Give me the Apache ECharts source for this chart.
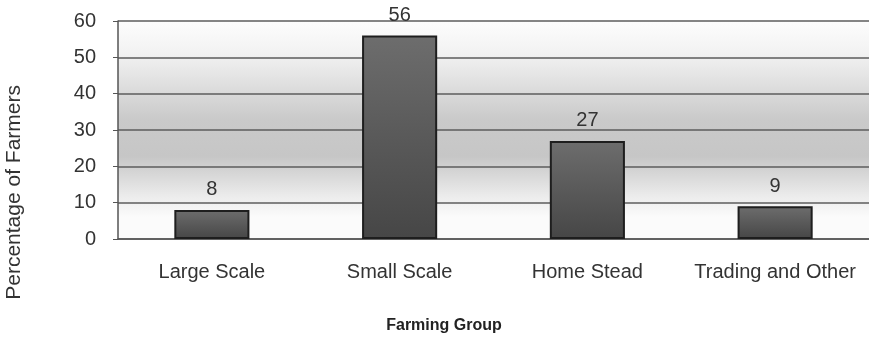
<!DOCTYPE html>
<html>
<head>
<meta charset="utf-8">
<script src="https://cdn.jsdelivr.net/npm/echarts@6/dist/echarts.min.js"></script>
<style>
  html, body { margin: 0; padding: 0; background: #fff; }
  #chart { width: 869px; height: 340px; }
</style>
</head>
<body>
<div id="chart"></div>
<script>
  // farming groups and share of farmers (%)
  var categories = ['Large Scale', 'Small Scale', 'Home Stead', 'Trading and Other'];
  var farmers = [8, 56, 27, 9];
  var yTicks = [0, 10, 20, 30, 40, 50, 60];

  var chart = echarts.init(document.getElementById('chart'));
  var option = {
    animation: false,
    textStyle: { fontFamily: 'Liberation Sans, Arial, sans-serif' },
    grid: {
      left: 118,
      right: 0,
      top: 21,
      bottom: 101,
      outerBoundsMode: 'none',
      show: true,
      borderWidth: 0,
      backgroundColor: {
        type: 'linear', x: 0, y: 0, x2: 0, y2: 1,
        colorStops: [
          { offset: 0, color: '#fdfdfd' },
          { offset: 0.15, color: '#f2f2f2' },
          { offset: 0.45, color: '#cacaca' },
          { offset: 0.62, color: '#c6c6c6' },
          { offset: 0.8, color: '#ebebeb' },
          { offset: 0.9, color: '#fbfbfb' },
          { offset: 1, color: '#fbfbfb' }
        ]
      }
    },
    xAxis: {
      type: 'category',
      data: categories,
      axisLine: { lineStyle: { color: '#555', width: 1.5 } },
      axisTick: { length: 6, lineStyle: { color: '#555' } },
      axisLabel: { fontSize: 20, color: '#333', margin: 23, interval: 0, hideOverlap: false }
    },
    yAxis: {
      type: 'value',
      min: yTicks[0],
      max: yTicks[yTicks.length - 1],
      interval: 10,
      axisLine: { show: true, lineStyle: { color: '#555', width: 1.5 } },
      axisTick: { show: true, length: 5, lineStyle: { color: '#555' } },
      axisLabel: { fontSize: 20, color: '#333', margin: 22 },
      splitLine: { lineStyle: { color: '#5c5c5c', width: 1.5 } }
    },
    graphic: [{
      type: 'text',
      x: 4,
      y: 85,
      rotation: Math.PI / 2,
      style: {
        text: 'Percentage of Farmers',
        fontSize: 21,
        fill: '#333',
        fontFamily: 'Liberation Sans, Arial, sans-serif',
        align: 'right',
        verticalAlign: 'top'
      }
    }, {
      type: 'text',
      x: 444,
      y: 326,
      style: {
        text: 'Farming Group',
        fontSize: 16,
        fontWeight: 'bold',
        fill: '#222',
        fontFamily: 'Liberation Sans Narrow, Arial Narrow, sans-serif',
        align: 'center',
        verticalAlign: 'middle'
      }
    }],
    series: [{
      type: 'bar',
      data: farmers,
      barWidth: '40%',
      itemStyle: {
        color: {
          type: 'linear', x: 0, y: 0, x2: 0, y2: 1,
          colorStops: [
            { offset: 0, color: '#6d6d6d' },
            { offset: 1, color: '#464646' }
          ]
        },
        borderColor: '#1e1e1e',
        borderWidth: 2
      },
      label: {
        show: true,
        position: 'top',
        distance: 10,
        fontSize: 20,
        color: '#333'
      }
    }]
  };
  chart.setOption(option);
  window.addEventListener('resize', function () {
    chart.resize();
  });
</script>
</body>
</html>
